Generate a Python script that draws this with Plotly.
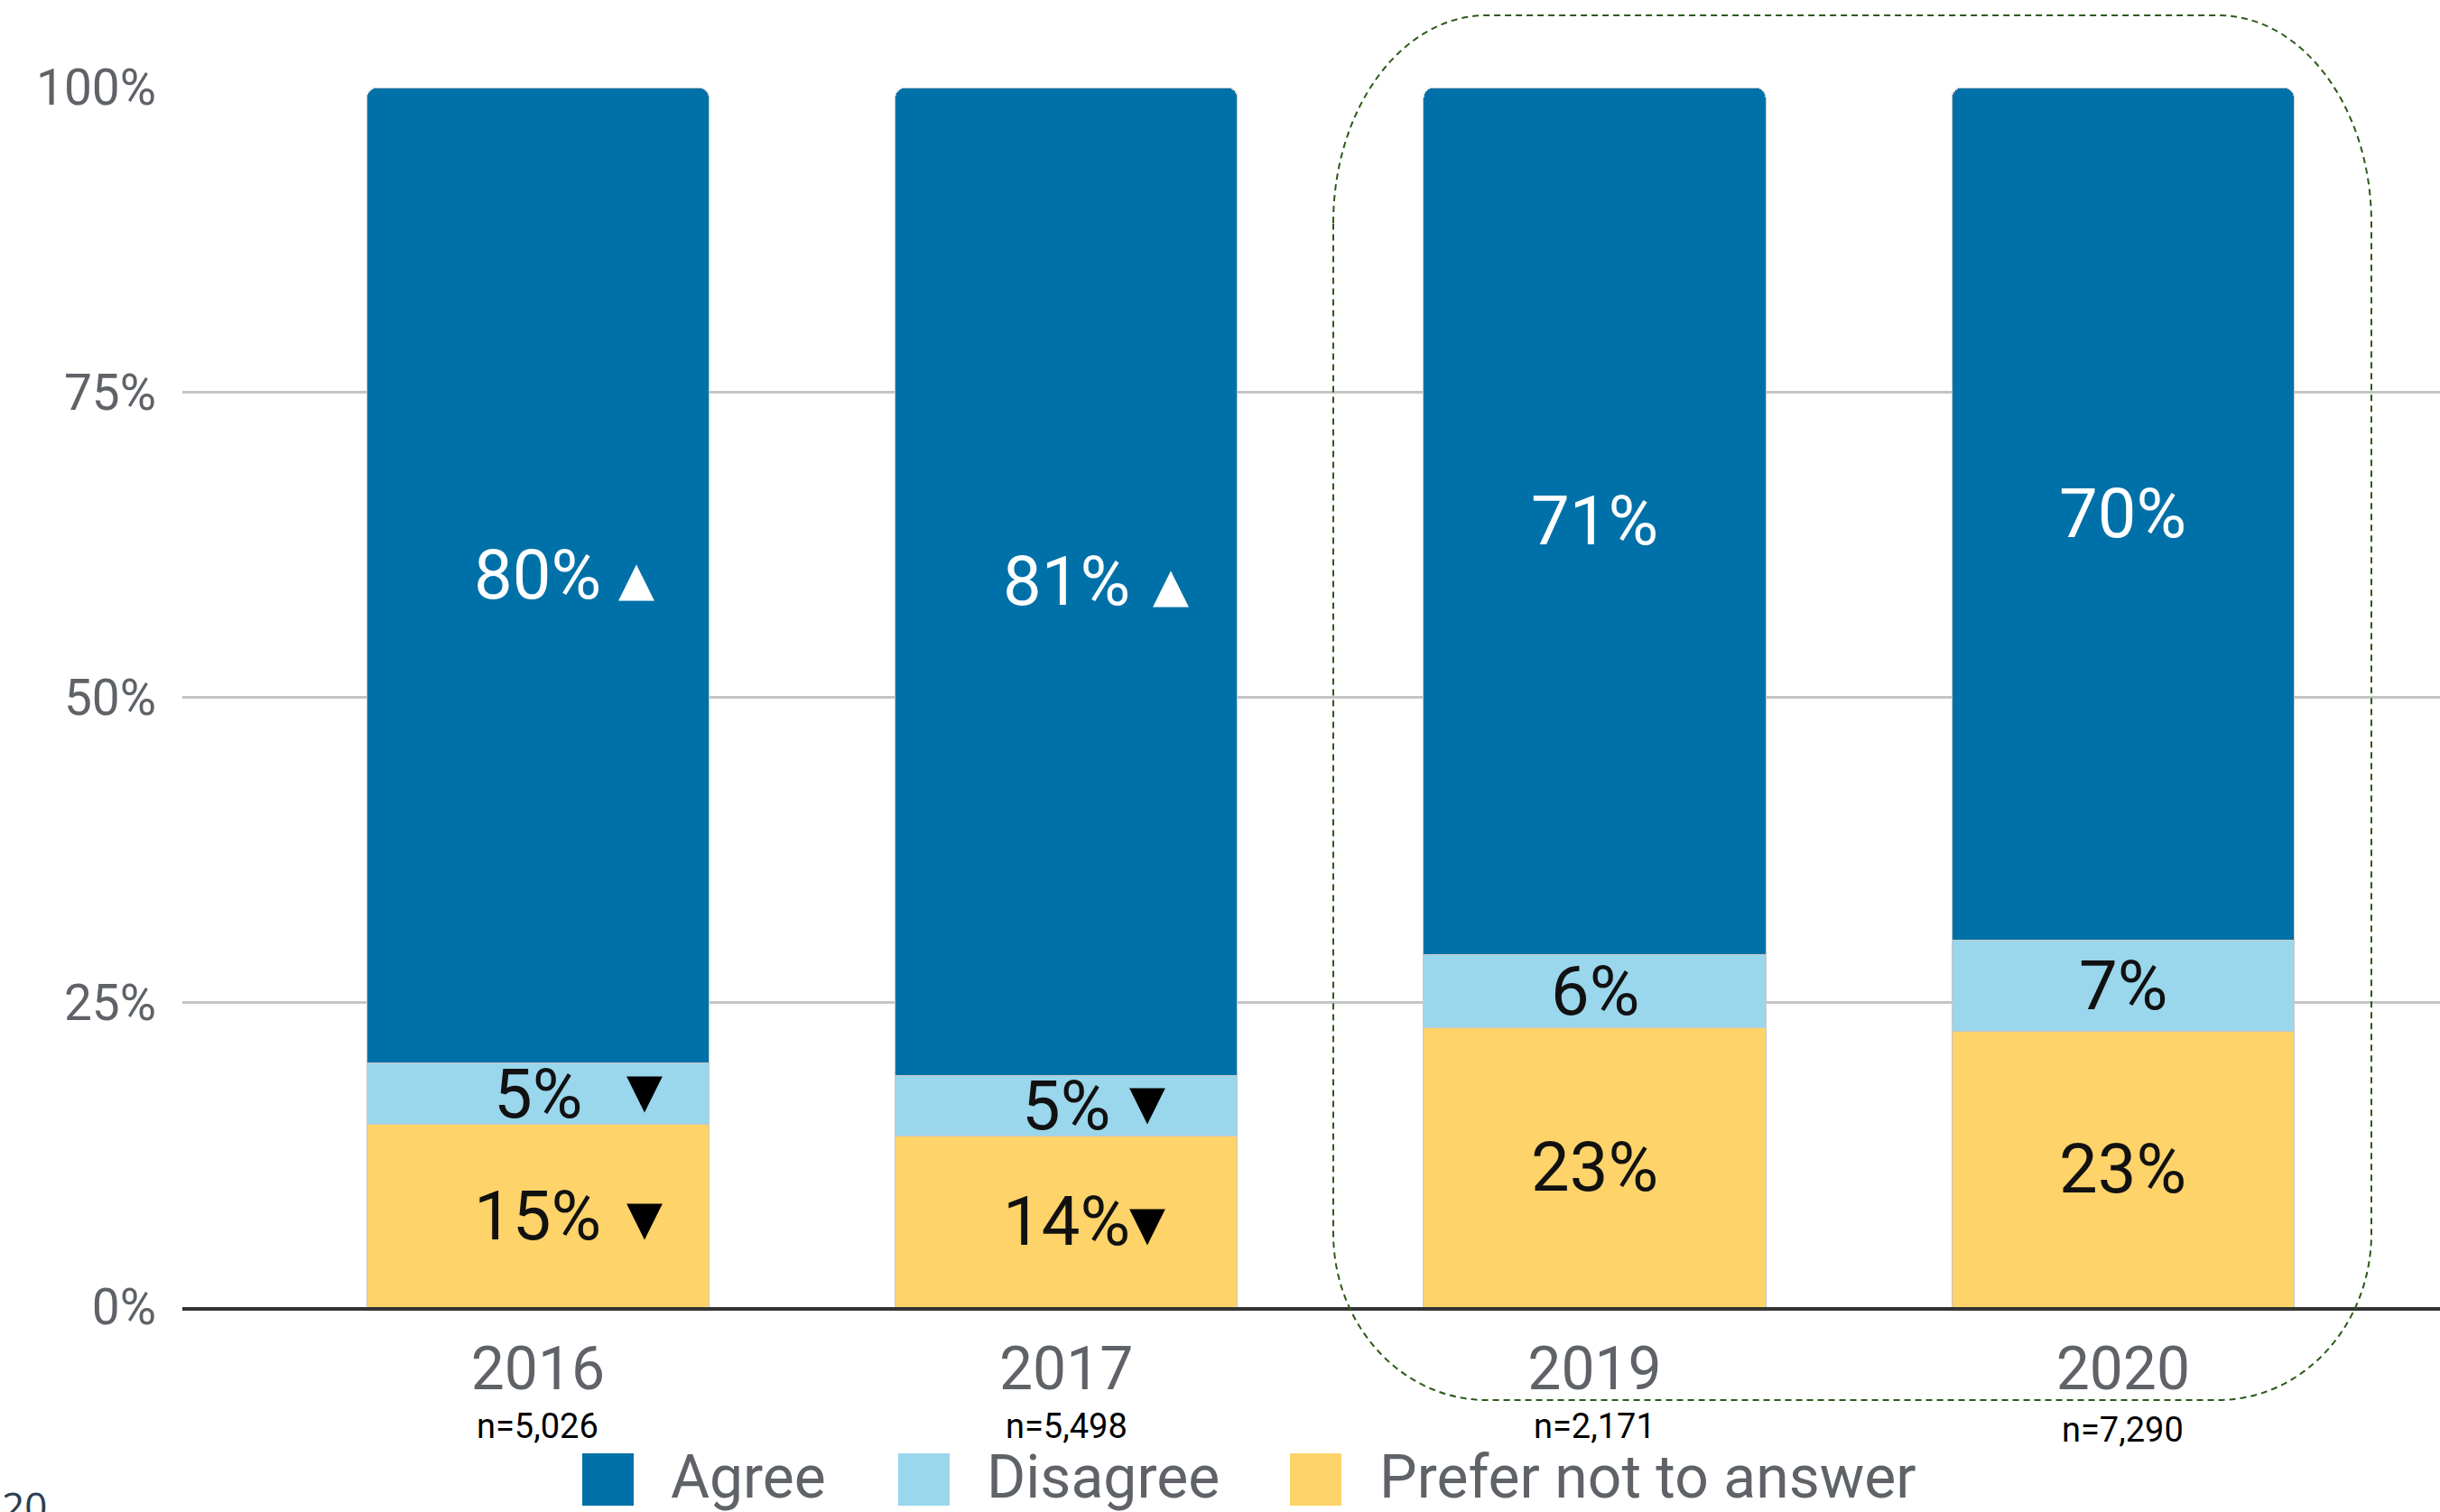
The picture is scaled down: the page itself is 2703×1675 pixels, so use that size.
import plotly.graph_objects as go

# ---------------- data ----------------
years = ["2016", "2017", "2019", "2020"]
series_names = ["Agree", "Disagree", "Prefer not to answer"]
agree = [80.0, 81.0, 71.1, 69.9]
disagree = [5.0, 5.0, 6.0, 7.5]
prefer = [15.0, 14.0, 22.9, 22.6]
agree_labels = ["80%", "81%", "71%", "70%"]
disagree_labels = ["5%", "5%", "6%", "7%"]
prefer_labels = ["15%", "14%", "23%", "23%"]
agree_trend = ["▲", "▲", "", ""]
disagree_trend = ["▼", "▼", "", ""]
prefer_trend = ["▼", "▼", "", ""]
n_labels = ["n=5,026", "n=5,498", "n=2,171", "n=7,290"]
y_ticks = [0, 25, 50, 75, 100]
y_ticklabels = ["0%", "25%", "50%", "75%", "100%"]

# ---------------- style ----------------
W, H = 2703, 1675
ML, MR, MT, MB = 202, 0, 97, 227
PW, PH = W - ML - MR, H - MT - MB
C_AGREE, C_DIS, C_PREF = "#0071A8", "#9AD6EC", "#FDD36A"
GREY_TXT = "#5f6368"
FONT = "Roboto, Arial, sans-serif"
tri_shift_agree = [109, 116, 0, 0]
tri_shift_dis = [118, 90, 0, 0]
tri_shift_pref = [118, 90, 0, 0]


def px2x(px):
    return (px - ML) / PW


def py2y(py):
    return (H - MB - py) / PH


fig = go.Figure()
common = dict(width=0.648, marker_line=dict(color="#c8c8c8", width=1), showlegend=False,
              hoverinfo="skip")
fig.add_trace(go.Bar(x=years, y=prefer, name=series_names[2], marker_color=C_PREF, **common))
fig.add_trace(go.Bar(x=years, y=disagree, name=series_names[1], marker_color=C_DIS, **common))
fig.add_trace(go.Bar(x=years, y=agree, name=series_names[0], marker_color=C_AGREE,
                     marker_cornerradius=12, **common))

annotations = []
for i, yr in enumerate(years):
    segs = [
        (0, prefer[i], prefer_labels[i], "#111111", prefer_trend[i], tri_shift_pref[i], "black", -2),
        (prefer[i], disagree[i], disagree_labels[i], "#111111", disagree_trend[i], tri_shift_dis[i], "black", 4),
        (prefer[i] + disagree[i], agree[i], agree_labels[i], "white", agree_trend[i], tri_shift_agree[i], "white", -4),
    ]
    for base, v, lbl, col, tri, sh, tcol, ys in segs:
        yc = base + v / 2
        annotations.append(dict(x=i, y=yc, xref="x", yref="y", text=lbl, showarrow=False,
                                font=dict(family=FONT, size=76, color=col),
                                xanchor="center", yanchor="middle"))
        if tri:
            annotations.append(dict(x=i, y=yc, xref="x", yref="y", text=tri, showarrow=False,
                                    xshift=sh, yshift=ys,
                                    font=dict(family="DejaVu Sans", size=52, color=tcol),
                                    xanchor="center", yanchor="middle"))
    annotations.append(dict(x=i, y=py2y(1580 + (4 if i == 3 else 0)), xref="x", yref="paper",
                            text=n_labels[i], showarrow=False,
                            font=dict(family="Liberation Sans Narrow, Arial Narrow, Roboto", size=38,
                                      color="black"),
                            xanchor="center", yanchor="middle"))

# manual legend
shapes = []
leg_sq = [645, 995, 1429]
leg_txt = [741, 1091, 1526]
leg_cols = [C_AGREE, C_DIS, C_PREF]
for name, sx, tx, c in zip(series_names, leg_sq, leg_txt, leg_cols):
    shapes.append(dict(type="rect", xref="paper", yref="paper",
                       x0=px2x(sx), x1=px2x(sx + 57), y0=py2y(1610), y1=py2y(1668),
                       fillcolor=c, line=dict(width=0)))
    annotations.append(dict(x=px2x(tx), y=py2y(1636), xref="paper", yref="paper", text=name,
                            showarrow=False, xanchor="left", yanchor="middle",
                            font=dict(family=FONT, size=66, color=GREY_TXT)))

# dashed rounded highlight box
L, R, T, B = 1477, 2627, 17, 1551
rxT, ryT, rxB, ryB = 170, 230, 170, 185
k = 0.5523


def P(x, y):
    return f"{px2x(x):.5f},{py2y(y):.5f}"


path = (
    f"M {P(L, T + ryT)} "
    f"C {P(L, T + ryT - k * ryT)} {P(L + rxT - k * rxT, T)} {P(L + rxT, T)} "
    f"L {P(R - rxT, T)} "
    f"C {P(R - rxT + k * rxT, T)} {P(R, T + ryT - k * ryT)} {P(R, T + ryT)} "
    f"L {P(R, B - ryB)} "
    f"C {P(R, B - ryB + k * ryB)} {P(R - rxB + k * rxB, B)} {P(R - rxB, B)} "
    f"L {P(L + rxB, B)} "
    f"C {P(L + rxB - k * rxB, B)} {P(L, B - ryB + k * ryB)} {P(L, B - ryB)} Z"
)
shapes.append(dict(type="path", xref="paper", yref="paper", path=path,
                   line=dict(color="#2d5a1b", width=2, dash="7px,5px")))

# footer fragment
annotations.append(dict(x=px2x(0), y=py2y(1636), xref="paper", yref="paper", text="20.",
                        showarrow=False, xanchor="left", yanchor="top",
                        font=dict(family="Open Sans", size=44, color="#2c3e50")))

fig.update_layout(
    width=W, height=H,
    margin=dict(l=ML, r=MR, t=MT, b=MB, pad=0),
    barmode="stack",
    plot_bgcolor="white", paper_bgcolor="white",
    showlegend=False,
    annotations=annotations,
    shapes=shapes,
    xaxis=dict(type="category", range=[-0.673, 3.60], showgrid=False,
               showline=True, linecolor="#333333", linewidth=4,
               ticks="", ticklabelstandoff=8,
               tickfont=dict(family=FONT, size=66, color=GREY_TXT)),
    yaxis=dict(range=[0, 100], tickvals=y_ticks, ticktext=y_ticklabels,
               showgrid=True, gridcolor="#c4c4c4", gridwidth=3, zeroline=False,
               ticks="", ticklabelstandoff=28,
               tickfont=dict(family=FONT, size=55, color=GREY_TXT)),
)

fig.write_html("out.html", config={"displayModeBar": False},
               post_script="document.body.style.margin='0';document.body.style.overflow='hidden';")
